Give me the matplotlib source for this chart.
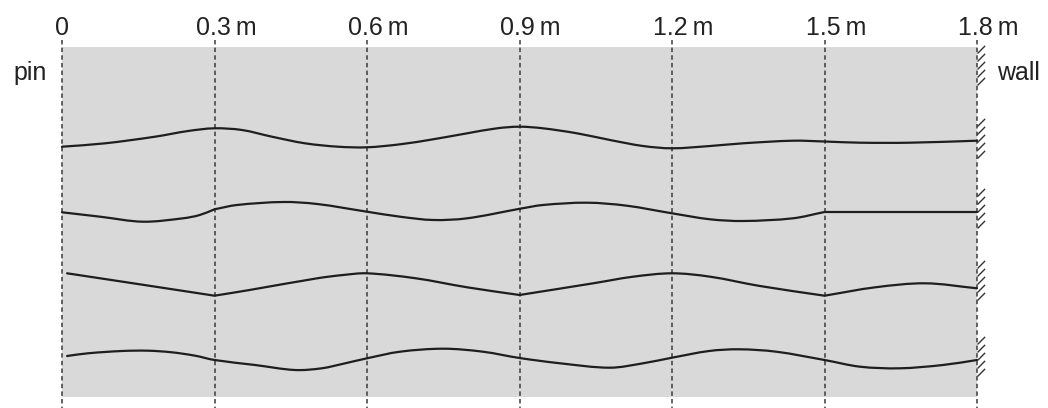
import numpy as np
import matplotlib.pyplot as plt
from matplotlib.path import Path
from matplotlib.patches import PathPatch

plt.rcParams['font.family'] = ['Liberation Sans', 'DejaVu Sans']

# positions along the string (m) and their labels
marks_m = [0, 0.3, 0.6, 0.9, 1.2, 1.5, 1.8]
mark_labels = ['0', '0.3\u2009m', '0.6\u2009m', '0.9\u2009m', '1.2\u2009m', '1.5\u2009m', '1.8\u2009m']

# four snapshots of the string, depth measured down from the top of the picture
row1_x = [0.0, 0.085, 0.183, 0.248, 0.3, 0.354, 0.413, 0.478, 0.543, 0.6, 0.665, 0.730, 0.797,
          0.856, 0.9, 0.946, 1.013, 1.078, 1.143, 1.2, 1.275, 1.340, 1.438, 1.5, 1.570, 1.668, 1.8]
row1_y = [146.7, 143.3, 136.7, 131, 128.3, 130, 136.7, 143.3, 146.7, 147.3, 144.3, 139.3, 133.3,
          128.3, 126.7, 128.3, 133.3, 140, 146, 148.3, 146, 143.3, 140.7, 141.5, 142.7, 142.7, 140.7]

row2_x = [0.0, 0.075, 0.159, 0.238, 0.271, 0.3, 0.344, 0.435, 0.502, 0.6, 0.665, 0.730, 0.797,
          0.9, 0.946, 1.033, 1.111, 1.2, 1.275, 1.340, 1.438, 1.5, 1.8]
row2_y = [212.3, 216.7, 221.7, 218.3, 215, 209.3, 205, 202, 204, 211.7, 216.7, 220, 218.3,
          208.8, 205, 202.7, 205.7, 213.3, 219.3, 221, 218.3, 212, 212]

row3_x = [0.01, 0.140, 0.3, 0.369, 0.502, 0.553, 0.6, 0.696, 0.797, 0.9, 1.045, 1.122, 1.2,
          1.275, 1.373, 1.5, 1.600, 1.698, 1.8]
row3_y = [273.3, 283.3, 295.7, 290, 278.3, 275, 273.3, 278.3, 287.3, 295, 283.3, 276.8, 273.3,
          276.7, 286, 295.7, 287.3, 283.3, 288.3]

row4_x = [0.01, 0.051, 0.118, 0.169, 0.216, 0.262, 0.3, 0.380, 0.458, 0.511, 0.557, 0.6, 0.665,
          0.750, 0.828, 0.9, 0.980, 1.078, 1.143, 1.2, 1.273, 1.332, 1.405, 1.5, 1.570, 1.648,
          1.733, 1.8]
row4_y = [356, 353.3, 351, 350.7, 352.3, 355.7, 360, 365, 370, 368.3, 363.3, 358.3, 351.7,
          348.7, 351.7, 358, 363.3, 367.7, 363.3, 357.7, 351, 349.3, 351.7, 360, 366.7, 368.3,
          365, 360]

# points where the string has a kink
row1_kinks = []
row2_kinks = [0.3, 0.9, 1.5]
row3_kinks = [0.3, 0.9, 1.5]
row4_kinks = []

rows = [(row1_x, row1_y, row1_kinks), (row2_x, row2_y, row2_kinks),
        (row3_x, row3_y, row3_kinks), (row4_x, row4_y, row4_kinks)]

# wall hatching spans (depth)
wall_spans = [(47, 90), (120, 163), (190, 233), (262, 304), (338, 381)]


def string_path(xs, ys, kinks):
    # bezier through the read points, slopes from the neighbours, one-sided at kinks
    xs = np.asarray(xs, float)
    ys = np.asarray(ys, float)
    n = len(xs)
    seg = np.diff(ys) / np.diff(xs)
    s_in = np.empty(n)
    s_out = np.empty(n)
    for i in range(n):
        if i == 0:
            s_in[i] = s_out[i] = seg[0]
        elif i == n - 1:
            s_in[i] = s_out[i] = seg[-1]
        elif any(abs(xs[i] - k) < 1e-6 for k in kinks):
            s_in[i] = seg[i - 1]
            s_out[i] = seg[i]
        else:
            s = (ys[i + 1] - ys[i - 1]) / (xs[i + 1] - xs[i - 1])
            s_in[i] = s_out[i] = s
    verts = [(xs[0], ys[0])]
    codes = [Path.MOVETO]
    for i in range(n - 1):
        h = xs[i + 1] - xs[i]
        verts += [(xs[i] + h / 3, ys[i] + s_out[i] * h / 3),
                  (xs[i + 1] - h / 3, ys[i + 1] - s_in[i + 1] * h / 3),
                  (xs[i + 1], ys[i + 1])]
        codes += [Path.CURVE4] * 3
    return Path(verts, codes)


px_per_m = 915 / 1.8
fig = plt.figure(figsize=(10.48, 4.08), dpi=100)
ax = fig.add_axes([0, 0, 1, 1])
ax.set_xlim(-62 / px_per_m, 986 / px_per_m)
ax.set_ylim(408, 0)
ax.axis('off')

ax.fill_between([0, 1.8], 47, 397, color='#d9d9d9', lw=0, zorder=0)
ax.vlines(marks_m, 40, 408, colors='#3a3a3a', lw=1.1, linestyles=(0, (2.9, 2.1)), zorder=1)

for xs, ys, kinks in rows:
    ax.add_patch(PathPatch(string_path(xs, ys, kinks), fill=False, edgecolor='#1e1e1e',
                           lw=1.6, capstyle='round', joinstyle='round', zorder=3))

tick_path = Path([(0, 0), (1, 1)])
for lo, hi in wall_spans:
    ys = np.arange(lo + 6, hi, 8)
    ax.plot([1.8] * len(ys), ys, ls='none', marker=tick_path, ms=11, mew=1.0, color='#333333', zorder=2)

for m, lab in zip(marks_m, mark_labels):
    if lab == '0':
        ax.text(m, 35, lab, ha='center', va='baseline', fontsize=18, color='#222222')
    else:
        ax.annotate(lab, (m, 35), xytext=(-19, 0), textcoords='offset pixels',
                    ha='left', va='baseline', fontsize=18, color='#222222')

ax.annotate('pin', (0, 80), xytext=(-15, 0), textcoords='offset pixels',
            ha='right', va='baseline', fontsize=18, color='#222222')
ax.annotate('wall', (1.8, 80), xytext=(20, 0), textcoords='offset pixels',
            ha='left', va='baseline', fontsize=18, color='#222222')

fig.savefig('out.png', dpi=100)
